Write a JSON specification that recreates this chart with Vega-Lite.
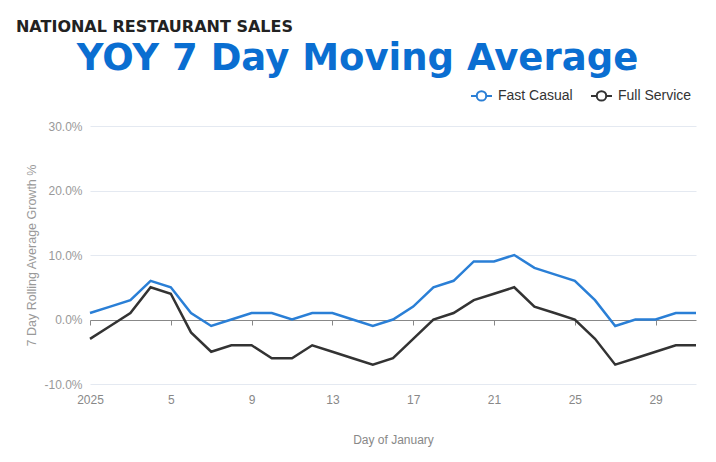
{
  "$schema": "https://vega.github.io/schema/vega-lite/v6.json",
  "background": "white",
  "padding": {"left": 15, "top": 18, "right": 10, "bottom": 10},
  "config": {"view": {"stroke": null}, "font": "Liberation Sans"},
  "title": {"text": "NATIONAL RESTAURANT SALES", "anchor": "start", "frame": "bounds", "dx": -10, "font": "DejaVu Sans", "fontWeight": "bold", "fontSize": 16, "color": "#222222", "offset": 5.5},
  "datasets": {
    "sales": [
      {"day": 1, "series": "Fast Casual", "value": 1}, {"day": 2, "series": "Fast Casual", "value": 2}, {"day": 3, "series": "Fast Casual", "value": 3}, {"day": 4, "series": "Fast Casual", "value": 6}, {"day": 5, "series": "Fast Casual", "value": 5}, {"day": 6, "series": "Fast Casual", "value": 1}, {"day": 7, "series": "Fast Casual", "value": -1}, {"day": 8, "series": "Fast Casual", "value": 0}, {"day": 9, "series": "Fast Casual", "value": 1}, {"day": 10, "series": "Fast Casual", "value": 1}, {"day": 11, "series": "Fast Casual", "value": 0}, {"day": 12, "series": "Fast Casual", "value": 1}, {"day": 13, "series": "Fast Casual", "value": 1}, {"day": 14, "series": "Fast Casual", "value": 0}, {"day": 15, "series": "Fast Casual", "value": -1}, {"day": 16, "series": "Fast Casual", "value": 0}, {"day": 17, "series": "Fast Casual", "value": 2}, {"day": 18, "series": "Fast Casual", "value": 5}, {"day": 19, "series": "Fast Casual", "value": 6}, {"day": 20, "series": "Fast Casual", "value": 9}, {"day": 21, "series": "Fast Casual", "value": 9}, {"day": 22, "series": "Fast Casual", "value": 10}, {"day": 23, "series": "Fast Casual", "value": 8}, {"day": 24, "series": "Fast Casual", "value": 7}, {"day": 25, "series": "Fast Casual", "value": 6}, {"day": 26, "series": "Fast Casual", "value": 3}, {"day": 27, "series": "Fast Casual", "value": -1}, {"day": 28, "series": "Fast Casual", "value": 0}, {"day": 29, "series": "Fast Casual", "value": 0}, {"day": 30, "series": "Fast Casual", "value": 1}, {"day": 31, "series": "Fast Casual", "value": 1},
      {"day": 1, "series": "Full Service", "value": -3}, {"day": 2, "series": "Full Service", "value": -1}, {"day": 3, "series": "Full Service", "value": 1}, {"day": 4, "series": "Full Service", "value": 5}, {"day": 5, "series": "Full Service", "value": 4}, {"day": 6, "series": "Full Service", "value": -2}, {"day": 7, "series": "Full Service", "value": -5}, {"day": 8, "series": "Full Service", "value": -4}, {"day": 9, "series": "Full Service", "value": -4}, {"day": 10, "series": "Full Service", "value": -6}, {"day": 11, "series": "Full Service", "value": -6}, {"day": 12, "series": "Full Service", "value": -4}, {"day": 13, "series": "Full Service", "value": -5}, {"day": 14, "series": "Full Service", "value": -6}, {"day": 15, "series": "Full Service", "value": -7}, {"day": 16, "series": "Full Service", "value": -6}, {"day": 17, "series": "Full Service", "value": -3}, {"day": 18, "series": "Full Service", "value": 0}, {"day": 19, "series": "Full Service", "value": 1}, {"day": 20, "series": "Full Service", "value": 3}, {"day": 21, "series": "Full Service", "value": 4}, {"day": 22, "series": "Full Service", "value": 5}, {"day": 23, "series": "Full Service", "value": 2}, {"day": 24, "series": "Full Service", "value": 1}, {"day": 25, "series": "Full Service", "value": 0}, {"day": 26, "series": "Full Service", "value": -3}, {"day": 27, "series": "Full Service", "value": -7}, {"day": 28, "series": "Full Service", "value": -6}, {"day": 29, "series": "Full Service", "value": -5}, {"day": 30, "series": "Full Service", "value": -4}, {"day": 31, "series": "Full Service", "value": -4}
    ]
  },
  "vconcat": [
    {
      "width": 606,
      "height": 258,
      "title": {"text": "YOY 7 Day Moving Average", "anchor": "middle", "frame": "bounds", "dx": -6, "font": "DejaVu Sans", "fontWeight": "bold", "fontSize": 37, "color": "#0a6ed1", "offset": 42},
      "data": {"name": "sales"},
      "resolve": {"axis": {"x": "independent"}},
      "layer": [
        {
          "mark": {"type": "line", "strokeWidth": 2.5},
          "encoding": {
            "x": {"field": "day", "type": "quantitative", "scale": {"domain": [1, 31], "nice": false, "zero": false},
              "axis": {"values": [1, 5, 9, 13, 17, 21, 25, 29], "labelExpr": "datum.value == 1 ? '2025' : datum.label", "labelFlush": false, "labelOverlap": false, "grid": false, "domain": false, "ticks": false, "labelColor": "#888888", "labelFontSize": 12, "labelPadding": 10, "title": "Day of January", "titleColor": "#888888", "titleFontSize": 12, "titleFontWeight": "normal", "titlePadding": 29}},
            "y": {"field": "value", "type": "quantitative", "scale": {"domain": [-10, 30], "nice": false},
              "axis": {"values": [-10, 0, 10, 20, 30], "labelExpr": "replace(format(datum.value, '.1f'), '\u2212', '-') + '%'", "domain": false, "ticks": false, "labelColor": "#999999", "labelFontSize": 12, "labelPadding": 8,
                "gridColor": {"condition": {"test": "datum.value === 0", "value": "#888888"}, "value": "#e4e9f1"}, "gridWidth": 1,
                "title": "7 Day Rolling Average Growth %", "titleColor": "#999999", "titleFontSize": 12.5, "titleFontWeight": "normal", "titlePadding": 5}},
            "color": {"field": "series", "type": "nominal", "scale": {"domain": ["Fast Casual", "Full Service"], "range": ["#2a7fd6", "#333333"]},
              "legend": {"orient": "none", "legendX": 380, "legendY": -42, "direction": "horizontal", "title": null, "labelFontSize": 14, "labelColor": "#333333", "symbolType": "M-1,0L-0.45,0M0.45,0L1,0M0.45,0A0.45,0.45 0 1,1 -0.45,0A0.45,0.45 0 1,1 0.45,0", "symbolSize": 440, "symbolStrokeWidth": 2, "symbolFillColor": "white", "columnPadding": 14, "labelOffset": 5}}
          }
        },
        {
          "mark": {"type": "line", "strokeOpacity": 0},
          "encoding": {
            "x": {"field": "day", "type": "quantitative", "scale": {"domain": [1, 31], "nice": false, "zero": false},
              "axis": {"values": [1, 5, 9, 13, 17, 21, 25, 29], "orient": "bottom", "offset": -64, "labels": false, "ticks": true, "tickSize": 5, "tickColor": "#888888", "domain": false, "grid": false, "title": null}},
            "y": {"field": "value", "type": "quantitative"},
            "detail": {"field": "series"}
          }
        }
      ]
    }
  ]
}
